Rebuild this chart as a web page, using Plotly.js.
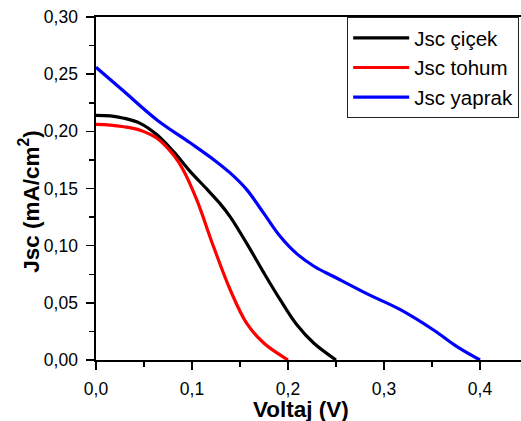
<!DOCTYPE html>
<html>
<head>
<meta charset="utf-8">
<script src="https://cdn.plot.ly/plotly-3.0.1.min.js"></script>
<style>html,body{margin:0;padding:0;background:#fff;}#chart{width:521px;height:421px;}</style>
</head>
<body>
<div id="chart"></div>
<script>
// Series names
const seriesNames = ["Jsc çiçek", "Jsc tohum", "Jsc yaprak"];
const seriesColors = ["#000000", "#ff0000", "#0000ff"];

// Jsc çiçek
const cicekV = [0, 0.015, 0.029, 0.046, 0.0635, 0.081, 0.098, 0.116, 0.129, 0.140, 0.157, 0.175, 0.192, 0.209, 0.227, 0.25];
const cicekJ = [0.214, 0.2135, 0.2115, 0.207, 0.197, 0.182, 0.165, 0.149, 0.137, 0.125, 0.102, 0.076, 0.0525, 0.031, 0.0146, 0];

// Jsc tohum
const tohumV = [0, 0.015, 0.029, 0.046, 0.0635, 0.081, 0.091, 0.105, 0.1225, 0.140, 0.157, 0.175, 0.2];
const tohumJ = [0.206, 0.2055, 0.204, 0.201, 0.194, 0.179, 0.166, 0.140, 0.099, 0.061, 0.032, 0.0146, 0];

// Jsc yaprak
const yaprakV = [0, 0.029, 0.0635, 0.098, 0.123, 0.140, 0.157, 0.175, 0.192, 0.209, 0.227, 0.2475, 0.282, 0.317, 0.352, 0.376, 0.4];
const yaprakJ = [0.256, 0.235, 0.210, 0.190, 0.175, 0.1634, 0.149, 0.128, 0.108, 0.093, 0.082, 0.073, 0.058, 0.044, 0.026, 0.0117, 0];

// Axis ticks
const yTickVals = [0, 0.05, 0.10, 0.15, 0.20, 0.25, 0.30];
const xTickVals = [0, 0.1, 0.2, 0.3, 0.4];
const xTitle = "Voltaj (V)";
const yTitle = "Jsc (mA/cm<sup>2</sup>)";

const xs = [cicekV, tohumV, yaprakV];
const ys = [cicekJ, tohumJ, yaprakJ];
const font = "Arial, 'Liberation Sans', sans-serif";

const traces = seriesNames.map((n, i) => ({
  x: xs[i], y: ys[i], name: n, type: "scatter", mode: "lines",
  line: {color: seriesColors[i], width: 3.2, shape: "spline", smoothing: 1, simplify: false}
}));

const axisCommon = {
  showgrid: false, zeroline: false, showline: true, linecolor: "#000", linewidth: 1.6,
  mirror: true, ticks: "outside", ticklen: 8, tickwidth: 1.5, tickcolor: "#000",
  tickfont: {family: font, size: 17.5, color: "#000"}
};

const layout = {
  width: 521, height: 421,
  margin: {l: 96, r: 0, t: 17, b: 61, autoexpand: false},
  paper_bgcolor: "#fff", plot_bgcolor: "#fff",
  separators: ",.",
  showlegend: true,
  xaxis: Object.assign({}, axisCommon, {
    range: [0, 0.4427], tickvals: xTickVals, tickformat: ".1f", ticklabelstandoff: 4,
    minor: {dtick: 0.05, tick0: 0, ticks: "outside", ticklen: 5, tickwidth: 1.5, tickcolor: "#000", showgrid: false}
  }),
  yaxis: Object.assign({}, axisCommon, {
    range: [0, 0.30], tickvals: yTickVals, tickformat: ".2f", ticklabelstandoff: 5,
    minor: {dtick: 0.025, tick0: 0, ticks: "outside", ticklen: 5, tickwidth: 1.5, tickcolor: "#000", showgrid: false}
  }),
  legend: {
    x: 0.591, y: 1, xanchor: "left", yanchor: "top",
    bgcolor: "#fff", bordercolor: "#222", borderwidth: 1,
    font: {family: font, size: 20.5, color: "#000"},
    itemwidth: 56, tracegroupgap: 0
  },
  annotations: [
    {text: "<b>" + xTitle + "</b>", xref: "paper", yref: "paper", x: 0.4824, y: -0.1429,
     xanchor: "center", yanchor: "middle", showarrow: false,
     font: {family: font, size: 22.5, color: "#000"}},
    {text: "<b>" + yTitle + "</b>", xref: "paper", yref: "paper", x: -0.1575, y: 0.4615,
     xanchor: "center", yanchor: "middle", showarrow: false, textangle: -90,
     font: {family: font, size: 22.5, color: "#000"}}
  ]
};

Plotly.newPlot("chart", traces, layout, {staticPlot: true, displayModeBar: false});
</script>
</body>
</html>
